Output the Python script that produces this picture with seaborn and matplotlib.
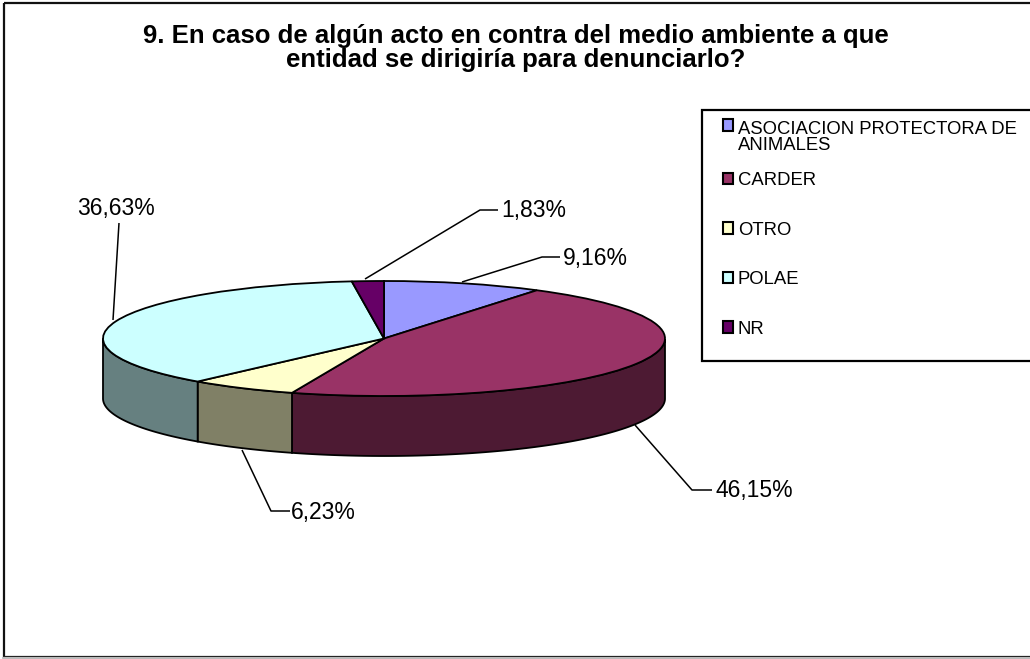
import numpy as np
import matplotlib
matplotlib.use("Agg")
import matplotlib.pyplot as plt
from matplotlib.patches import Rectangle
import seaborn as sns

# ---------- data ----------
categories = ["ASOCIACION PROTECTORA DE\nANIMALES", "CARDER", "OTRO", "POLAE", "NR"]
values = [9.16, 46.15, 6.23, 36.63, 1.83]
value_labels = ["9,16%", "46,15%", "6,23%", "36,63%", "1,83%"]
title_text = "9. En caso de algún acto en contra del medio ambiente a que\nentidad se dirigiría para denunciarlo?"
hex_colors = ["#9999FF", "#993366", "#FFFFCC", "#CCFFFF", "#660066"]

# ---------- layout (pixels) ----------
W, H = 1030, 659
CX, CY, RX, RY, DEPTH = 384, 338.5, 281, 57.5, 60

sns.set_theme(style="white")
plt.rcParams["font.family"] = ["Liberation Sans", "DejaVu Sans"]
palette = sns.color_palette(hex_colors)

fig = plt.figure(figsize=(W / 100, H / 100), dpi=100, facecolor="white")

# pixel overlay
ov = fig.add_axes([0, 0, 1, 1], zorder=3)
ov.set_xlim(0, W)
ov.set_ylim(H, 0)
ov.axis("off")
ov.patch.set_alpha(0)

# pie axes: one data unit = RX px horizontally, RY px vertically
pad = 0.05
d = DEPTH / RY
left, right = CX - RX * (1 + pad), CX + RX * (1 + pad)
top, bottom = CY - RY * (1 + pad), CY + RY * (1 + pad) + DEPTH
pie_ax = fig.add_axes([left / W, 1 - bottom / H, (right - left) / W, (bottom - top) / H], zorder=2)
wedges, _ = pie_ax.pie(values, colors=palette, startangle=90, counterclock=False, radius=1,
                       wedgeprops=dict(edgecolor="black", linewidth=1.3), labels=None, normalize=True)
for w in wedges:
    w.set_zorder(5)
pie_ax.set_aspect("auto")
pie_ax.set_xlim(-1 - pad, 1 + pad)
pie_ax.set_ylim(-1 - pad - d, 1 + pad)
pie_ax.axis("off")

# side wall, derived from the values
cum = np.cumsum([0] + values) / np.sum(values) * 360
for i, c in enumerate(palette):
    a1 = 90 - cum[i + 1]
    a2 = 90 - cum[i]
    lo, hi = a1 % 360, a1 % 360 + (a2 - a1)
    th = np.linspace(lo, hi, 200)
    th = th[(th % 360) >= 180]
    if len(th) < 2:
        continue
    th = np.radians(th)
    xs = np.concatenate([np.cos(th), np.cos(th)[::-1]])
    ys = np.concatenate([np.sin(th), np.sin(th)[::-1] - d])
    pie_ax.fill(xs, ys, facecolor=tuple(v * 0.5 for v in c), edgecolor="black", linewidth=1.3, zorder=2)

# outer border
ov.add_patch(Rectangle((3.5, 2.5), W + 20, 654, fill=False, edgecolor="#111111", lw=1.6, clip_on=False))
ov.plot([3, W], [657.5, 657.5], color="#BBBBBB", lw=1.6)

# title
fig.text(516 / W, 1 - 48 / H, title_text, ha="center", va="center", fontsize=18.5,
         fontweight="bold", color="black", linespacing=0.98, zorder=5)

# leader lines and value labels
leaders = [
    ([(462, 282), (542, 257), (560, 257)], (563, 258)),
    ([(635, 425), (692, 490), (712, 490)], (715, 491)),
    ([(242, 450), (271, 511), (290, 511)], (291, 512)),
    ([(113, 320), (119, 223)], (77, 209)),
    ([(365, 279), (480, 210), (498, 210)], (501, 211)),
]
for txt, (pts, pos) in zip(value_labels, leaders):
    px, py = zip(*pts)
    ov.plot(px, py, color="black", lw=1.1, solid_capstyle="butt")
    ov.text(pos[0], pos[1], txt, ha="left", va="center", fontsize=16.5, color="black")

# legend: the wrapped first entry and the evenly spaced others
ov.add_patch(Rectangle((702, 110), W + 20 - 702, 251, facecolor="white", edgecolor="black", lw=1.6, clip_on=False, zorder=1))
legend_style = dict(loc="upper left", frameon=False, fontsize=13.3, handlelength=0.58, handleheight=0.58,
                    handletextpad=0.25, borderpad=0, borderaxespad=0, labelcolor="black")
leg_first = ov.legend(wedges[:1], categories[:1], bbox_to_anchor=(722.5 / W, 1 - 121 / H),
                      labelspacing=0, **legend_style)
for t in leg_first.get_texts():
    t.set_linespacing(0.95)
leg_first.legend_handles[0].set_y(leg_first.legend_handles[0].get_y() + 9)
leg_first.set_zorder(4)
ov.add_artist(leg_first)
leg_rest = ov.legend(wedges[1:], categories[1:], bbox_to_anchor=(722.5 / W, 1 - 172 / H),
                     labelspacing=1.76, **legend_style)
leg_rest.set_zorder(4)
for leg in (leg_first, leg_rest):
    for h in leg.legend_handles:
        h.set_linewidth(1.5)
        h.set_edgecolor("black")

fig.savefig("out.png", dpi=100)
